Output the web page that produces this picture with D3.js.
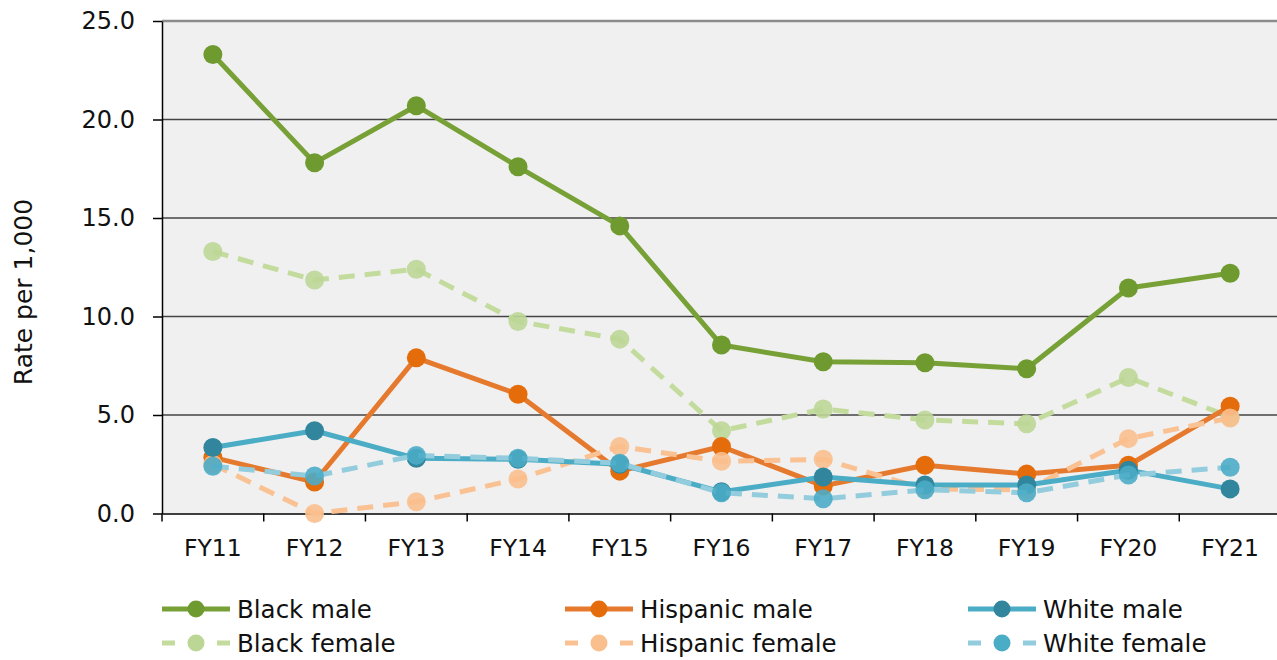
<!DOCTYPE html>
<html><head><meta charset="utf-8">
<script src="https://cdn.jsdelivr.net/npm/d3@7"></script>
<style>body{margin:0;background:#fff}svg{display:block;font-family:"DejaVu Sans",Verdana,sans-serif}</style>
</head><body><svg id="c" width="1277" height="660"></svg>
<script>
const years = ["FY11","FY12","FY13","FY14","FY15","FY16","FY17","FY18","FY19","FY20","FY21"];
const blackMale      = [23.3,17.8,20.7,17.6,14.6,8.55,7.7,7.65,7.35,11.45,12.2];
const blackFemale    = [13.3,11.85,12.4,9.75,8.85,4.2,5.3,4.75,4.55,6.9,4.9];
const hispanicMale   = [2.85,1.6,7.9,6.05,2.15,3.4,1.4,2.45,2.0,2.45,5.45];
const hispanicFemale = [2.5,0.0,0.6,1.75,3.4,2.65,2.75,1.25,1.2,3.8,4.85];
const whiteMale      = [3.35,4.2,2.8,2.75,2.5,1.1,1.85,1.45,1.45,2.2,1.25];
const whiteFemale    = [2.4,1.9,2.95,2.8,2.55,1.05,0.75,1.2,1.05,1.95,2.35];
const yTicks = [0,5,10,15,20,25];

const series = [
  {name:"Black male", values:blackMale, line:"#77a136", marker:"#6f9a30", dash:null},
  {name:"Black female", values:blackFemale, line:"#c3dc9e", marker:"#bcd696", dash:"16,10"},
  {name:"Hispanic male", values:hispanicMale, line:"#e57a2e", marker:"#e46c0a", dash:null},
  {name:"Hispanic female", values:hispanicFemale, line:"#fac193", marker:"#f9bf8d", dash:"16,10"},
  {name:"White male", values:whiteMale, line:"#4bacc6", marker:"#31859c", dash:null},
  {name:"White female", values:whiteFemale, line:"#93cddd", marker:"#4bacc6", dash:"16,10"}
];
const legendOrder = ["Black male","Hispanic male","White male","Black female","Hispanic female","White female"];

const svg = d3.select("#c");
const m = {l:162, t:21, r:1281, b:513.5};
const x = d3.scaleBand().domain(years).range([m.l, m.r]);
const y = d3.scaleLinear().domain([0,25]).range([m.b, m.t]);

svg.append("rect").attr("x",m.l).attr("y",m.t).attr("width",m.r-m.l).attr("height",m.b-m.t).attr("fill","#f0f0f0");

// gridlines
svg.append("g").selectAll("line").data(yTicks.filter(d=>d>0)).join("line")
  .attr("x1",m.l).attr("x2",m.r).attr("y1",d=>y(d)).attr("y2",d=>y(d))
  .attr("stroke",d=>d===25?"#8c8c8c":"#444").attr("stroke-width",d=>d===25?2.5:1.5);

// y axis
const ya = svg.append("g").attr("transform",`translate(${m.l},0)`)
  .call(d3.axisLeft(y).tickValues(yTicks).tickSize(9).tickSizeOuter(0).tickFormat(d3.format(".1f")));
ya.select(".domain").attr("stroke","#000").attr("stroke-width",1.5);
ya.selectAll(".tick line").attr("stroke","#000").attr("stroke-width",1.5);
ya.selectAll(".tick text").attr("font-size",24).attr("fill","#111").attr("x",-27).attr("font-family","DejaVu Sans");

// x axis
const xa = svg.append("g").attr("transform",`translate(0,${m.b})`)
  .call(d3.axisBottom(x).tickSize(0).tickSizeOuter(0));
xa.select(".domain").attr("stroke","#000").attr("stroke-width",1.5);
xa.selectAll(".tick text").attr("font-size",23.5).attr("fill","#111").attr("y",26).attr("font-family","DejaVu Sans");
svg.append("g").selectAll("line").data(years.map((d,i)=>i)).join("line")
  .attr("x1",i=>m.l+i*x.step()).attr("x2",i=>m.l+i*x.step())
  .attr("y1",m.b).attr("y2",m.b+8).attr("stroke","#000").attr("stroke-width",1.5);

// y title
svg.append("text").attr("transform","translate(32,292) rotate(-90)").attr("text-anchor","middle")
  .attr("font-size",25).attr("fill","#111").text("Rate per 1,000");

const cx = d => x(d)+x.bandwidth()/2;
const line = d3.line().x((d,i)=>cx(years[i])).y(d=>y(d));

series.forEach(s=>{
  const g = svg.append("g");
  g.append("path").attr("d",line(s.values)).attr("fill","none").attr("stroke",s.line)
   .attr("stroke-width",5).attr("stroke-dasharray",s.dash).attr("stroke-linejoin","round");
  g.selectAll("circle").data(s.values).join("circle")
   .attr("cx",(d,i)=>cx(years[i])).attr("cy",d=>y(d)).attr("r",9.5)
   .attr("fill",s.marker).attr("opacity",s.dash?0.9:1);
});

// legend
const colX = [162,565,968], rowY = [609,643];
legendOrder.forEach((n,i)=>{
  const s = series.find(q=>q.name===n);
  const lx = colX[i%3], ly = rowY[Math.floor(i/3)];
  const g = svg.append("g");
  g.append("line").attr("x1",lx).attr("x2",lx+68).attr("y1",ly).attr("y2",ly)
   .attr("stroke",s.line).attr("stroke-width",5).attr("stroke-dasharray",s.dash?"13,42,13":null);
  g.append("circle").attr("cx",lx+34).attr("cy",ly).attr("r",8.5).attr("fill",s.marker);
  g.append("text").attr("x",lx+75).attr("y",ly).attr("dy","0.36em").attr("font-size",24.5)
   .attr("fill","#111").text(n);
});
</script></body></html>
